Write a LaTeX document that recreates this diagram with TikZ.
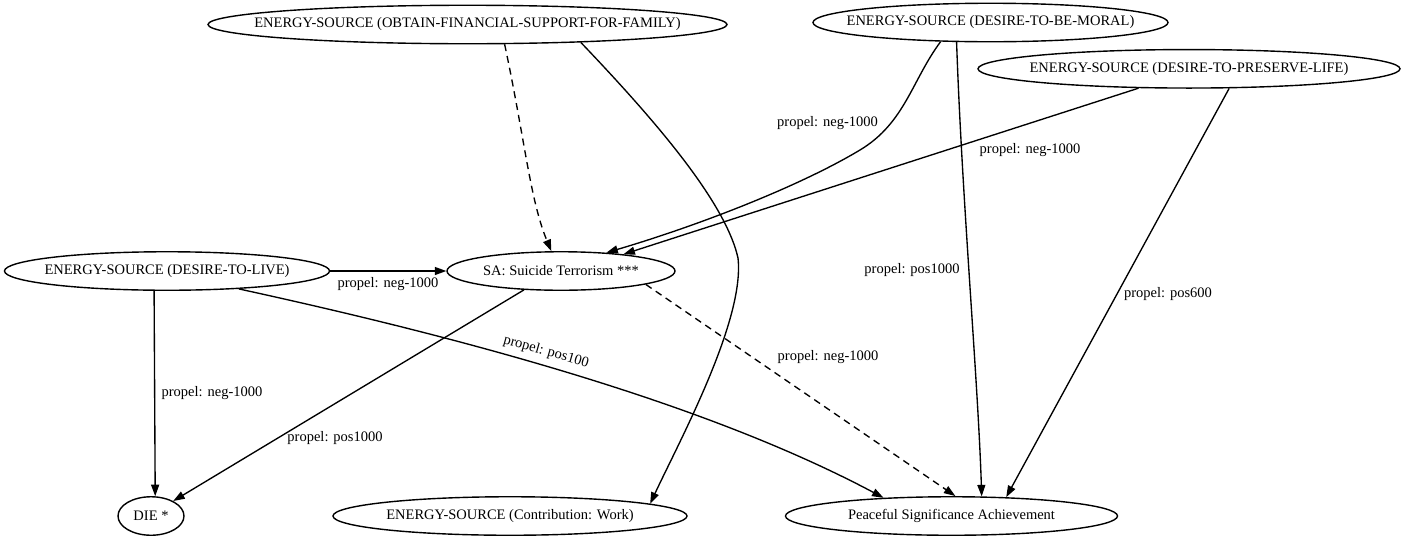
\documentclass[tikz,border=0pt]{standalone}
\usepackage{fontspec}
\setmainfont{Liberation Serif}
\usetikzlibrary{shapes.geometric,arrows.meta}
\begin{document}
\begin{tikzpicture}[x=1pt,y=-1pt,
  ell/.style={draw, ellipse, inner sep=0pt, line width=1.4pt, minimum height=38.5pt, font=\fontsize{14.5}{17}\selectfont},
  lbl/.style={inner sep=0pt, font=\fontsize{14.5}{17}\selectfont},
  edgeline/.style={line width=1.35pt, -{Triangle[length=11.5pt,width=8pt]}},
  dashedge/.style={edgeline, dash pattern=on 7pt off 5pt}]
\useasboundingbox (0,0) rectangle (1405,536);

% nodes
\node[ell, minimum width=519pt] (obtain) at (467.5,24.5) {\makebox[0pt]{ENERGY-SOURCE (OBTAIN-FINANCIAL-SUPPORT-FOR-FAMILY)}};
\node[ell, minimum width=355pt] (moral) at (990.5,22.5) {\makebox[0pt]{ENERGY-SOURCE (DESIRE-TO-BE-MORAL)}};
\node[ell, minimum width=422pt] (preserve) at (1189,68.8) {\makebox[0pt]{ENERGY-SOURCE (DESIRE-TO-PRESERVE-LIFE)}};
\node[ell, minimum width=325pt] (live) at (167,271) {\makebox[0pt]{ENERGY-SOURCE (DESIRE-TO-LIVE)}};
\node[ell, minimum width=228pt] (sa) at (561,271) {\makebox[0pt]{SA: Suicide Terrorism ***}};
\node[ell, minimum width=66pt] (die) at (151,516) {\makebox[0pt]{DIE *}};
\node[ell, minimum width=354pt] (work) at (510,516) {\makebox[0pt]{ENERGY-SOURCE (Contribution: Work)}};
\node[ell, minimum width=332pt] (peace) at (951.5,516) {\makebox[0pt]{Peaceful Significance Achievement}};

% connectors
\draw[dashedge] (obtain.-28.6) .. controls (525,140) and (530,200) .. (sa.116.3);
\draw[edgeline] (obtain.-9.6) .. controls (650,115) and (725,200) .. (738,258)
                 .. controls (745,320) and (680,440) .. (work.5.6);
\draw[edgeline] (moral.201) .. controls (912,80) and (905,123) .. (860,150)
                 .. controls (800,186) and (700,225) .. (sa.22);
\draw[edgeline] (moral.210.5) .. controls (962,200) and (978,380) .. (peace.33.3);
\draw[edgeline] (preserve.201.6) -- (sa.15.9);
\draw[edgeline] (preserve.-26.8) -- (peace.19.3);
\draw[edgeline] (live.east) -- (sa.west);
\draw[edgeline] (live.237.7) -- (die.78);
\draw[edgeline] (live.-14.3) .. controls (450,335) and (700,400) .. (peace.165.5);
\draw[edgeline] (sa.207.9) -- (die.34);
\draw[dashedge] (sa.-9.5) -- (peace.79.6);

% labels
\node[lbl] (l1) at (827.5,123) {propel: neg-1000};
\node[lbl] (l2) at (1030,150) {propel: neg-1000};
\node[lbl] (l3) at (912,270) {propel: pos1000};
\node[lbl] (l4) at (1168,294) {propel: pos600};
\node[lbl] (l5) at (388,284) {propel: neg-1000};
\node[lbl] (l6) at (212,393) {propel: neg-1000};
\node[lbl, rotate=-16] (l7) at (546,352) {propel: pos100};
\node[lbl] (l8) at (335,438) {propel: pos1000};
\node[lbl] (l9) at (828,357) {propel: neg-1000};
\end{tikzpicture}
\end{document}
